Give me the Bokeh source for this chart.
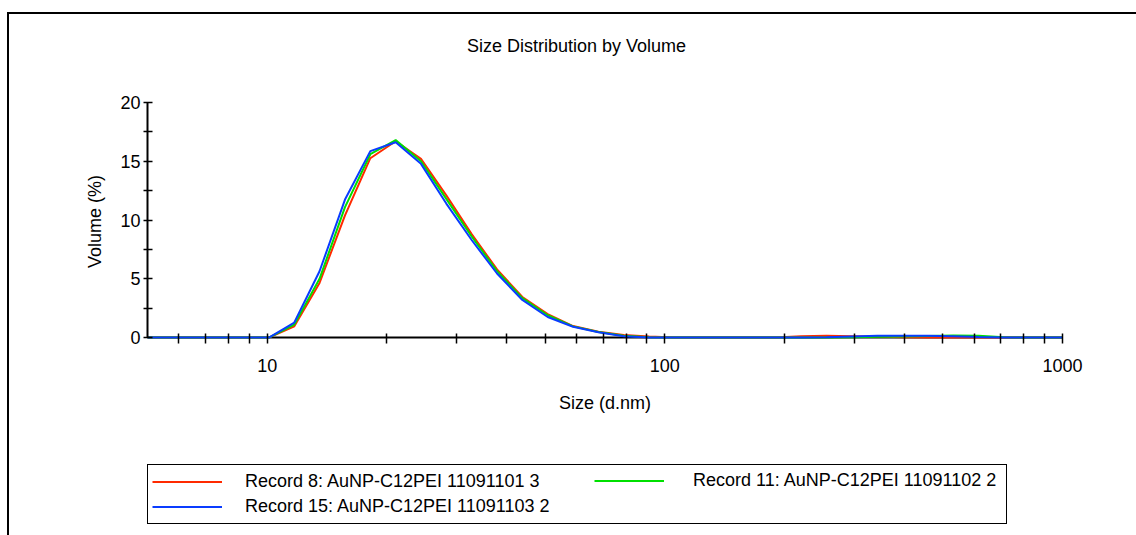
from bokeh.plotting import figure
from bokeh.layouts import column
from bokeh.models import (Range1d, FixedTicker, BasicTickFormatter, Legend,
                          LegendItem, Span, Label)
from bokeh.embed import file_html
from bokeh.resources import INLINE

# ---------------- data ----------------
sizes = [4.849, 5.615, 6.503, 7.531, 8.721, 10.1, 11.7, 13.54, 15.69, 18.17,
         21.04, 24.36, 28.21, 32.67, 37.84, 43.82, 50.75, 58.77, 68.06, 78.82,
         91.28, 105.7, 122.4, 141.8, 164.2, 190.1, 220.2, 255.0, 295.3, 342.0,
         396.1, 458.7, 531.2, 615.1, 712.4, 825.0, 955.4, 1106.0]

record8 = [0, 0, 0, 0, 0, 0, 0.96, 4.65, 10.4, 15.26,
           16.7, 15.2, 12.1, 8.8, 5.8, 3.45, 2.0, 0.98, 0.5, 0.22,
           0.1, 0, 0, 0, 0, 0, 0.12, 0.15, 0.12, 0.08,
           0.03, 0, 0, 0, 0, 0, 0, 0]

record11 = [0, 0, 0, 0, 0, 0, 1.1, 5.0, 11.1, 15.6,
            16.8, 15.0, 11.8, 8.6, 5.65, 3.35, 1.9, 0.95, 0.48, 0.15,
            0.02, 0, 0, 0, 0, 0, 0, 0, 0.02, 0.06,
            0.1, 0.14, 0.17, 0.15, 0.03, 0, 0, 0]

record15 = [0, 0, 0, 0, 0, 0, 1.28, 5.64, 11.74, 15.86,
            16.62, 14.78, 11.4, 8.3, 5.45, 3.2, 1.75, 0.92, 0.45, 0.12,
            0, 0, 0, 0, 0, 0, 0, 0.03, 0.1, 0.15,
            0.15, 0.15, 0.12, 0.05, 0, 0, 0, 0]

series_names = ["Record 8: AuNP-C12PEI 11091101 3",
                "Record 11: AuNP-C12PEI 11091102 2",
                "Record 15: AuNP-C12PEI 11091103 2"]
series_colors = ["#ff2a00", "#00e000", "#0a3cff"]
series_values = [record8, record11, record15]

x_major = [10, 100, 1000]
x_minor = [6, 7, 8, 9, 20, 30, 40, 50, 60, 70, 80, 90,
           200, 300, 400, 500, 600, 700, 800, 900]
y_major = [0, 5, 10, 15, 20]
y_minor = [2.5, 7.5, 12.5, 17.5]

title_text = "Size Distribution by Volume"
x_label = "Size (d.nm)"
y_label = "Volume (%)"

FONT = "Liberation Sans"
W = 1129  # canvas width (the report frame starts at page x=7)


def blank_figure(height):
    f = figure(width=W, height=height, output_backend="svg", toolbar_location=None,
               x_axis_location=None, y_axis_location=None,
               min_border=0, x_range=Range1d(0, 1), y_range=Range1d(0, 1))
    f.outline_line_color = None
    f.xgrid.visible = False
    f.ygrid.visible = False
    f.background_fill_color = "white"
    f.border_fill_color = "white"
    return f


# ---------------- title strip ----------------
p0 = blank_figure(60)
p0.add_layout(Label(x=429, y=29, x_units="screen", y_units="screen",
                    text=title_text, text_align="center", text_baseline="middle",
                    text_font=FONT, text_font_size="18px", text_color="black"))

# ---------------- chart ----------------
p = figure(frame_width=915, frame_height=238, output_backend="svg",
           toolbar_location=None,
           x_axis_type="log", x_range=Range1d(5, 1000), y_range=Range1d(-0.25, 20),
           min_border_left=138, min_border_right=W - 138 - 915, min_border_top=28,
           min_border_bottom=104)
p.outline_line_color = None
p.xgrid.visible = False
p.ygrid.visible = False
p.background_fill_color = "white"
p.border_fill_color = "white"

xa = p.xaxis[0]
xa.ticker = FixedTicker(ticks=x_major, minor_ticks=x_minor)
xa.formatter = BasicTickFormatter()
xa.axis_label = x_label
xa.axis_line_color = None
xa.major_tick_in = 7
xa.major_tick_out = 3
xa.minor_tick_in = 7
xa.minor_tick_out = 3
xa.major_label_standoff = 15
xa.axis_label_standoff = 18

ya = p.yaxis[0]
ya.ticker = FixedTicker(ticks=y_major, minor_ticks=y_minor)
ya.bounds = (0, 20)
ya.axis_label = y_label
ya.axis_line_width = 2
ya.axis_line_color = "black"
ya.major_tick_in = 5
ya.major_tick_out = 4
ya.minor_tick_in = 5
ya.minor_tick_out = 4
ya.major_label_standoff = 3
ya.axis_label_standoff = 12

for ax in (xa, ya):
    ax.major_tick_line_width = 1.5
    ax.minor_tick_line_width = 1.5
    ax.major_tick_line_color = "black"
    ax.minor_tick_line_color = "black"
    ax.major_label_text_font = FONT
    ax.major_label_text_font_size = "18px"
    ax.major_label_text_color = "black"
    ax.axis_label_text_font = FONT
    ax.axis_label_text_font_size = "18px"
    ax.axis_label_text_font_style = "normal"
    ax.axis_label_text_color = "black"

# x axis line at zero, beneath the curves
p.add_layout(Span(location=0, dimension="width", line_color="black",
                  line_width=2, level="underlay"))

for vals, col in zip(series_values, series_colors):
    p.line(sizes, vals, line_color=col, line_width=2)

# ---------------- legend strip ----------------
p2 = blank_figure(93)
leg_r = []
for vals, col in zip(series_values, series_colors):
    leg_r.append(p2.line(sizes, vals, line_color=col, line_width=2, visible=False))

common = dict(orientation="vertical", padding=4, spacing=0, margin=0,
              glyph_width=70, glyph_height=25, label_height=25,
              label_text_font=FONT, label_text_font_size="18px",
              label_text_color="black", inactive_fill_alpha=0)

leg1 = Legend(items=[LegendItem(label=series_names[0], renderers=[leg_r[0]]),
                     LegendItem(label=series_names[2], renderers=[leg_r[2]])],
              location=(0, 13), label_standoff=23, label_width=757,
              border_line_color="black", border_line_width=1.5,
              border_line_alpha=1.0,
              background_fill_color="white", background_fill_alpha=1, **common)
p2.add_layout(leg1)

leg2 = Legend(items=[LegendItem(label=series_names[1], renderers=[leg_r[1]])],
              location=(447, 44), label_standoff=29,
              border_line_color=None, background_fill_alpha=0, **common)
p2.add_layout(leg2)

layout = column(p0, p, p2, spacing=0,
                styles={"margin-left": "7px", "margin-top": "12px",
                        "border-left": "2px solid black",
                        "border-top": "2px solid black"})

open("out.html", "w").write(file_html(layout, INLINE))
